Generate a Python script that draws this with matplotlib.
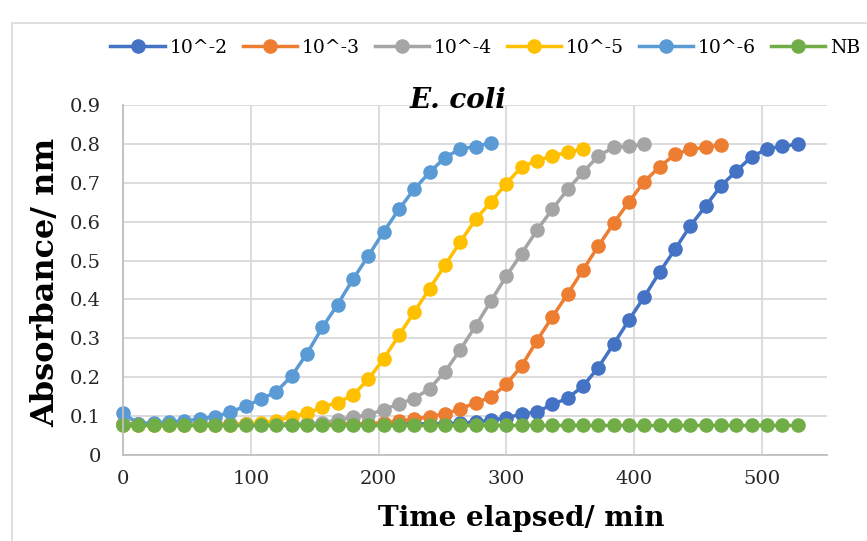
import matplotlib
matplotlib.use('Agg')
import matplotlib.pyplot as plt
from matplotlib.lines import Line2D
from matplotlib.patches import Rectangle


# Данные (время в минутах, поглощение)

TIME = [0, 12, 24, 36, 48, 60, 72, 84, 96, 108, 120, 132, 144, 156, 168, 180,
        192, 204, 216, 228, 240, 252, 264, 276, 288, 300, 312, 324, 336, 348,
        360, 372, 384, 396, 408, 420, 432, 444, 456, 468, 480, 492, 504, 516, 528]

ABS_E2 = [0.080, 0.079, 0.080, 0.080, 0.079, 0.080, 0.080, 0.079, 0.080, 0.080,
          0.080, 0.079, 0.080, 0.080, 0.080, 0.079, 0.080, 0.080, 0.080, 0.080,
          0.080, 0.081, 0.082, 0.085, 0.089, 0.096, 0.105, 0.111, 0.130, 0.146,
          0.177, 0.225, 0.285, 0.347, 0.407, 0.470, 0.529, 0.589, 0.640, 0.692,
          0.730, 0.767, 0.787, 0.794, 0.799]
ABS_E3 = [0.080, 0.079, 0.080, 0.080, 0.079, 0.080, 0.080, 0.079, 0.080, 0.080,
          0.080, 0.079, 0.080, 0.080, 0.080, 0.080, 0.081, 0.083, 0.087, 0.092,
          0.099, 0.106, 0.118, 0.135, 0.148, 0.182, 0.229, 0.294, 0.355, 0.414,
          0.476, 0.537, 0.596, 0.651, 0.703, 0.741, 0.773, 0.786, 0.791, 0.797]
ABS_E4 = [0.080, 0.079, 0.080, 0.080, 0.079, 0.080, 0.080, 0.079, 0.080, 0.080,
          0.080, 0.080, 0.081, 0.083, 0.090, 0.097, 0.104, 0.116, 0.132, 0.145,
          0.171, 0.214, 0.271, 0.332, 0.396, 0.460, 0.518, 0.578, 0.632, 0.683,
          0.727, 0.769, 0.791, 0.794, 0.799]
ABS_E5 = [0.077, 0.076, 0.077, 0.077, 0.076, 0.077, 0.077, 0.078, 0.079, 0.083,
          0.088, 0.099, 0.107, 0.123, 0.135, 0.154, 0.195, 0.247, 0.308, 0.368,
          0.428, 0.488, 0.548, 0.606, 0.651, 0.698, 0.741, 0.757, 0.769, 0.778,
          0.787]
ABS_E6 = [0.107, 0.081, 0.083, 0.085, 0.088, 0.092, 0.099, 0.110, 0.126, 0.143,
          0.163, 0.203, 0.261, 0.328, 0.387, 0.452, 0.512, 0.574, 0.632, 0.684,
          0.727, 0.765, 0.787, 0.793, 0.803]
ABS_NB = [0.078] * 45

SERIES = [
    ('10^-2', ABS_E2, '#4472C4'),
    ('10^-3', ABS_E3, '#ED7D31'),
    ('10^-4', ABS_E4, '#A5A5A5'),
    ('10^-5', ABS_E5, '#FFC000'),
    ('10^-6', ABS_E6, '#5B9BD5'),
    ('NB',    ABS_NB, '#70AD47'),
]

X_TICKS = [0, 100, 200, 300, 400, 500]
Y_TICKS = [0, 0.1, 0.2, 0.3, 0.4, 0.5, 0.6, 0.7, 0.8, 0.9]
Y_TICK_LABELS = ['0', '0.1', '0.2', '0.3', '0.4', '0.5', '0.6', '0.7', '0.8', '0.9']

W, H = 867, 541
SERIF = ['DejaVu Serif']
GRID = '#D9D9D9'
TXT = '#262626'
LW, MS = 2.5, 10.5


fig = plt.figure(figsize=(W / 100, H / 100), dpi=100)
fig.patch.set_facecolor('#FFFFFF')

# Рамка области диаграммы (уходит за края картинки)
fig.patches.append(Rectangle((12 / W, -0.2), 2, (H - 23) / H + 0.2,
                             transform=fig.transFigure, fill=False,
                             edgecolor=GRID, lw=1.2))

ax = fig.add_axes([123 / W, 1 - 455 / H, (827 - 123) / W, (455 - 105) / H])
ax.set_facecolor('#FFFFFF')

for name, vals, clr in SERIES:
    ax.plot(TIME[:len(vals)], vals, color=clr, lw=LW, marker='o', ms=MS,
            markeredgewidth=0, label=name, clip_on=False)

ax.set_xlim(0, 551)
ax.set_ylim(0, 0.9)
ax.set_xticks(X_TICKS)
ax.set_xticklabels([str(v) for v in X_TICKS], family=SERIF, fontsize=14, color=TXT)
ax.set_yticks(Y_TICKS)
ax.set_yticklabels(Y_TICK_LABELS, family=SERIF, fontsize=14, color=TXT)
ax.tick_params(length=0)
ax.tick_params(axis='x', pad=11)
ax.tick_params(axis='y', pad=16)
ax.grid(True, color=GRID, lw=1.3)
ax.set_axisbelow(True)
for side in ['top', 'right']:
    ax.spines[side].set_visible(False)
for side in ['left', 'bottom']:
    ax.spines[side].set_color('#BFBFBF')
    ax.spines[side].set_linewidth(1.3)

# Легенда сверху
handles = [Line2D([], [], color=c, lw=LW, marker='o', ms=MS, markeredgewidth=0)
           for _, _, c in SERIES]
fig.legend(handles, [s[0] for s in SERIES], loc='center left',
           bbox_to_anchor=(101 / W, 1 - 48 / H), ncol=6, frameon=False,
           borderpad=0, handlelength=2.9, handletextpad=0.25, columnspacing=0.8,
           prop={'family': SERIF, 'size': 13.5})

# Подписи
fig.text(458 / W, 1 - 101 / H, 'E. coli', ha='center', va='center',
         family=SERIF, fontsize=20, fontweight='bold', fontstyle='italic')
fig.text(521 / W, 1 - 518 / H, 'Time elapsed/ min', ha='center', va='center',
         family=SERIF, fontsize=20, fontweight='bold')
fig.text(46 / W, 1 - 282 / H, 'Absorbance/ nm', ha='center', va='center',
         rotation=90, family=SERIF, fontsize=23, fontweight='bold')

fig.savefig('out.png', dpi=100, facecolor='#FFFFFF')
plt.close(fig)
